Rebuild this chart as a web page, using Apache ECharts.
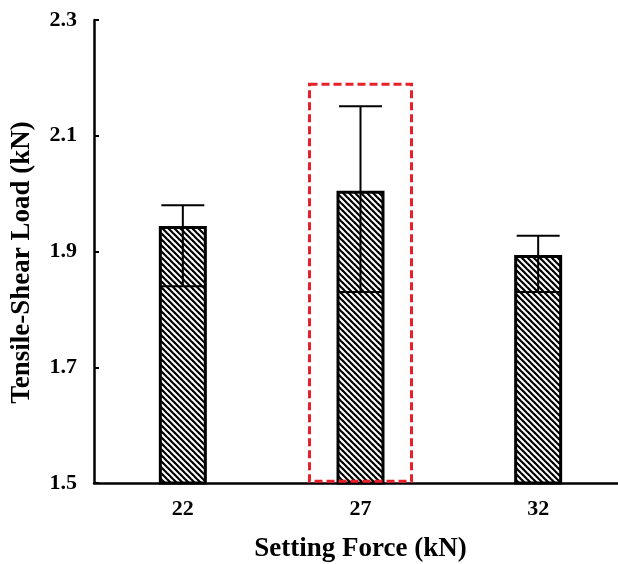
<!DOCTYPE html>
<html>
<head>
<meta charset="utf-8">
<script src="https://cdn.jsdelivr.net/npm/echarts@6/dist/echarts.min.js"></script>
<style>
  html, body { margin: 0; padding: 0; background: #fff; }
  #main { width: 618px; height: 564px; }
</style>
</head>
<body>
<div id="main"></div>
<script>
// setting force categories and measured tensile-shear loads
var forces = ['22', '27', '32'];
var loads = [1.944, 2.005, 1.894];
var errLow = [1.840, 1.830, 1.830];
var errHigh = [1.980, 2.151, 1.927];
// highlighted box around the 27 kN case: [category index, bottom, top]
var highlight = [[1, 1.503, 2.189]];

var font = 'Liberation Serif';

// diagonal hatch fill
function makeHatch() {
  var c = document.createElement('canvas');
  c.width = 6;
  c.height = 6;
  var ctx = c.getContext('2d');
  ctx.fillStyle = '#fff';
  ctx.fillRect(0, 0, 6, 6);
  ctx.strokeStyle = '#000';
  ctx.lineWidth = 2.2;
  for (var k = -1; k <= 1; k++) {
    ctx.beginPath();
    ctx.moveTo(k * 6 - 1, -1);
    ctx.lineTo(k * 6 + 7, 7);
    ctx.stroke();
  }
  return c;
}

var chart = echarts.init(document.getElementById('main'));

var errData = forces.map(function (f, i) {
  return [i, errLow[i], errHigh[i]];
});

var option = {
  animation: false,
  backgroundColor: '#fff',
  grid: { left: 94, top: 20, width: 533, bottom: 81, outerBoundsMode: 'none', containLabel: false },
  xAxis: {
    type: 'category',
    data: forces,
    name: 'Setting Force (kN)',
    nameLocation: 'middle',
    nameGap: 53,
    nameTextStyle: { fontFamily: font, fontWeight: 'bold', fontSize: 27, color: '#000' },
    axisLine: { lineStyle: { color: '#000', width: 2.5 } },
    axisTick: { show: false },
    axisLabel: { margin: 15, fontFamily: font, fontWeight: 'bold', fontSize: 22, color: '#000' }
  },
  yAxis: {
    type: 'value',
    min: 1.5,
    max: 2.3,
    interval: 0.2,
    name: 'Tensile-Shear Load (kN)',
    nameLocation: 'middle',
    nameGap: 58,
    nameTextStyle: {
      fontFamily: font, fontWeight: 'bold', fontSize: 27, color: '#000',
      padding: [0, 22, 0, 0]
    },
    axisLine: { show: true, lineStyle: { color: '#000', width: 2.5 } },
    axisTick: { show: true, inside: true, length: 5, lineStyle: { color: '#000', width: 2 } },
    splitLine: { show: false },
    axisLabel: {
      margin: 17,
      fontFamily: font, fontWeight: 'bold', fontSize: 22, color: '#000',
      formatter: function (v) { return v.toFixed(1); }
    }
  },
  series: [
    {
      type: 'bar',
      data: loads,
      barWidth: 48,
      itemStyle: {
        color: { image: makeHatch(), repeat: 'repeat' },
        borderColor: '#000',
        borderWidth: 3
      }
    },
    {
      type: 'custom',
      data: errData,
      z: 3,
      renderItem: function (params, api) {
        var x = api.value(0);
        var lo = api.coord([x, api.value(1)]);
        var hi = api.coord([x, api.value(2)]);
        var half = 21.5;
        var st = { stroke: '#000', lineWidth: 2 };
        return {
          type: 'group',
          children: [
            { type: 'line', shape: { x1: lo[0], y1: lo[1], x2: hi[0], y2: hi[1] }, style: st },
            { type: 'line', shape: { x1: hi[0] - half, y1: hi[1], x2: hi[0] + half, y2: hi[1] }, style: st },
            { type: 'line', shape: { x1: lo[0] - half, y1: lo[1], x2: lo[0] + half, y2: lo[1] }, style: st }
          ]
        };
      }
    },
    {
      type: 'custom',
      data: highlight,
      z: 4,
      renderItem: function (params, api) {
        var x = api.value(0);
        var bot = api.coord([x, api.value(1)]);
        var top = api.coord([x, api.value(2)]);
        var w = 102;
        return {
          type: 'rect',
          shape: { x: bot[0] - w / 2, y: top[1], width: w, height: bot[1] - top[1] },
          style: { fill: 'none', stroke: '#e8202a', lineWidth: 3, lineDash: [8, 4] }
        };
      }
    }
  ]
};

chart.setOption(option);
</script>
</body>
</html>
